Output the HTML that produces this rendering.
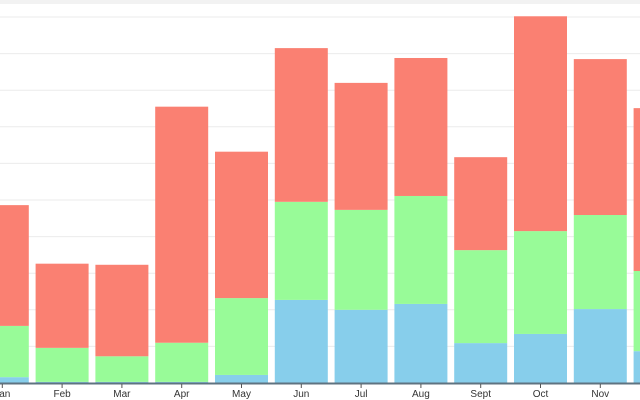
<!DOCTYPE html>
<html><head><meta charset="utf-8"><style>
html,body{margin:0;padding:0;background:#fff;width:640px;height:400px;overflow:hidden}
svg{display:block;font-family:"Liberation Sans",sans-serif}
</style></head><body>
<svg id="chart" width="640" height="400" viewBox="0 0 640 400">
<rect x="0" y="0" width="640" height="4" fill="#f2f2f2"/>
<g id="grid"></g>
<g id="bars"></g>
<g id="axis"></g>
</svg>
<script>
const months=["Jan","Feb","Mar","Apr","May","Jun","Jul","Aug","Sept","Oct","Nov","Dec"];
const blueVals=[0.16,0.03,0.03,0.03,0.22,2.27,2.0,2.16,1.09,1.34,2.02,0.87];
const greenVals=[1.4,0.93,0.7,1.07,2.1,2.68,2.73,2.95,2.54,2.81,2.57,2.19];
const redVals=[3.3,2.3,2.5,6.45,4.0,4.2,3.47,3.77,2.54,5.87,4.26,4.45];
const gridTicks=[1,2,3,4,5,6,7,8,9,10];
const NS="http://www.w3.org/2000/svg";
const baseY=383, unit=36.6, step=59.8, x0=2.3, bw=53;
function y(v){return baseY-v*unit;}
function xc(i){return x0+i*step;}
function mk(t,a,p){const e=document.createElementNS(NS,t);for(const k in a)e.setAttribute(k,a[k]);p.appendChild(e);return e;}
const grid=document.getElementById('grid');
gridTicks.forEach(v=>{
 const l=mk('line',{x1:0,x2:640,y1:y(v),y2:y(v),stroke:'#ebebeb','stroke-width':1},grid);
 
 
});
const bars=document.getElementById('bars');
const series=[[blueVals,'#87ceeb','blue'],[greenVals,'#98fb98','green'],[redVals,'#fa8072','red']];
months.forEach((m,i)=>{
 let acc=0;
 series.forEach(([vals,col,nm])=>{
  const v=vals[i];
  const r=mk('rect',{x:xc(i)-bw/2,y:y(acc+v),width:bw,height:v*unit,fill:col},bars);
  
  
  acc+=v;
 });
});
const ax=document.getElementById('axis');
const al=mk('line',{x1:0,x2:640,y1:baseY+0.5,y2:baseY+0.5,stroke:'#5f7380','stroke-width':2},ax);


months.forEach((m,i)=>{
 const t=mk('line',{x1:xc(i),x2:xc(i),y1:baseY+1,y2:baseY+5,stroke:'#555','stroke-width':1},ax);
 
 
 const tx=mk('text',{x:xc(i),y:397,'text-anchor':'middle','font-size':10,fill:'#333'},ax);
 tx.textContent=m;
 
 
});
</script>
</body></html>
